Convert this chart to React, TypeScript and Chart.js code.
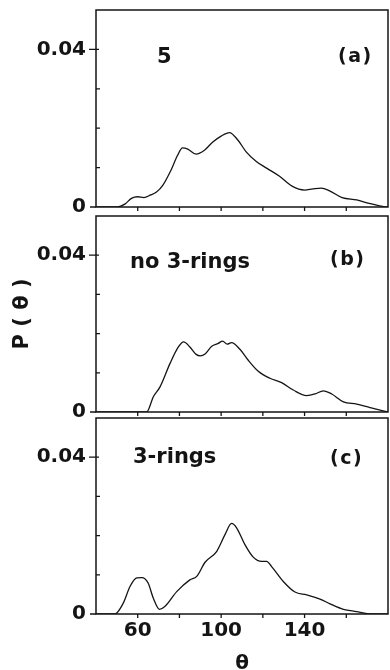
import React, { useEffect, useRef } from 'react';
import { Chart, registerables } from 'chart.js';

Chart.register(...registerables);

// ---- axis values ----
const X_MIN = 40;
const X_MAX = 180;
const Y_MIN = 0;
const Y_MAX = 0.05;
const xTickLabels = [60, 100, 140];
const xTickMarks = [60, 80, 100, 120, 140, 160];
const yTickMarks = [0, 0.01, 0.02, 0.03, 0.04];
const yTickLabels = ['0', '0.04'];

// ---- panel (a): 5 ----
const thetaA = [40, 50, 54, 57, 60, 63, 66, 69, 72, 76, 79, 81.5, 84, 88, 92, 96, 100, 104, 108, 112, 117, 122, 128, 134, 140, 144, 148, 152, 158, 165, 171, 178, 180];
const pA = [0, 0, 0.0008, 0.0022, 0.0026, 0.0024, 0.003, 0.0038, 0.0055, 0.0094, 0.013, 0.015, 0.0147, 0.0134, 0.0144, 0.0165, 0.018, 0.0189, 0.017, 0.014, 0.0115, 0.0098, 0.0078, 0.0053, 0.0043, 0.0046, 0.0048, 0.0041, 0.0024, 0.0018, 0.0009, 0.0001, 0];

// ---- panel (b): no 3-rings ----
const thetaB = [40, 64.3, 67.5, 70.7, 75.5, 79.5, 82, 85, 88, 90, 92.3, 95.5, 98.6, 100.7, 102.9, 105, 109, 113, 117.8, 123.4, 129, 134.6, 141, 145, 149, 153, 158.6, 165, 171.4, 180];
const pB = [0, 0, 0.0039, 0.0064, 0.0124, 0.0166, 0.0179, 0.0166, 0.0147, 0.0143, 0.0148, 0.0168, 0.0175, 0.0181, 0.0173, 0.0177, 0.016, 0.0132, 0.0104, 0.0086, 0.0075, 0.0056, 0.0042, 0.0046, 0.0054, 0.0046, 0.0026, 0.002, 0.0011, 0];

// ---- panel (c): 3-rings ----
const thetaC = [40, 49, 53, 56.3, 59.5, 62, 65, 67.5, 70.4, 73, 78.7, 85, 88.3, 92.3, 97.9, 101.9, 105, 107.4, 111.4, 115.4, 119.4, 121.8, 124.2, 129.8, 135.4, 141, 147.4, 152.2, 158.6, 165, 170, 180];
const pC = [0, 0, 0.0027, 0.007, 0.0092, 0.0093, 0.0079, 0.004, 0.0012, 0.0019, 0.0057, 0.0087, 0.0096, 0.0132, 0.016, 0.0203, 0.0231, 0.022, 0.0177, 0.0145, 0.0134, 0.0134, 0.0121, 0.0083, 0.0056, 0.0049, 0.0038, 0.0026, 0.0012, 0.0006, 0.0001, 0];

const FONT = '"DejaVu Sans", "Liberation Sans", sans-serif';
const INK = '#141414';

const decoPlugin = {
  id: 'panelDeco',
  afterDraw(chart: any, _args: any, opts: any) {
    const { ctx, chartArea: a, scales } = chart;
    const xs = scales.x;
    const ys = scales.y;
    ctx.save();
    ctx.strokeStyle = INK;
    ctx.lineWidth = 1.5;
    ctx.strokeRect(a.left, a.top, a.right - a.left, a.bottom - a.top);
    ctx.lineWidth = 1.3;
    ctx.beginPath();
    for (const v of yTickMarks) {
      const y = ys.getPixelForValue(v);
      const k = Math.round(v * 100);
      if (k === 0) {
        ctx.moveTo(a.left - 6, y);
        ctx.lineTo(a.left, y);
      } else if (k === 4) {
        ctx.moveTo(a.left - 7, y);
        ctx.lineTo(a.left + 3, y);
      } else {
        ctx.moveTo(a.left, y);
        ctx.lineTo(a.left + 4, y);
      }
    }
    for (const t of xTickMarks) {
      const x = xs.getPixelForValue(t);
      ctx.moveTo(x, a.bottom);
      ctx.lineTo(x, a.bottom + 4);
    }
    ctx.stroke();

    ctx.fillStyle = INK;
    ctx.textAlign = 'left';
    ctx.textBaseline = 'alphabetic';
    ctx.font = `bold 21px ${FONT}`;
    ctx.fillText(opts.label, opts.labelX, opts.labelY);
    ctx.font = `bold 19px ${FONT}`;
    (ctx as any).letterSpacing = '1.5px';
    ctx.fillText(opts.tag, opts.tagX, opts.tagY);
    (ctx as any).letterSpacing = '0px';
    ctx.restore();
  },
};

type PanelProps = {
  theta: number[];
  p: number[];
  top: number;
  height: number;
  padTop: number;
  padBottom: number;
  showX: boolean;
  showYTitle: boolean;
  label: string;
  labelX: number;
  labelY: number;
  tag: string;
  tagX: number;
  tagY: number;
};

function Panel(props: PanelProps) {
  const ref = useRef<HTMLCanvasElement>(null);
  useEffect(() => {
    const canvas = ref.current;
    if (!canvas) return;
    const tickFont = { family: FONT, size: 20, weight: 'bold' as const };
    const chart = new Chart(canvas, {
      type: 'line',
      data: {
        datasets: [
          {
            data: props.theta.map((t, i) => ({ x: t, y: props.p[i] })),
            borderColor: INK,
            borderWidth: 1.3,
            pointRadius: 0,
            fill: false,
            tension: 0.4,
            cubicInterpolationMode: 'monotone',
          },
        ],
      },
      options: {
        responsive: false,
        animation: false,
        devicePixelRatio: 1,
        layout: { padding: { top: props.padTop, bottom: props.padBottom, left: 0, right: 2 } },
        plugins: {
          legend: { display: false },
          tooltip: { enabled: false },
          panelDeco: {
            label: props.label,
            labelX: props.labelX,
            labelY: props.labelY,
            tag: props.tag,
            tagX: props.tagX,
            tagY: props.tagY,
          },
        } as any,
        scales: {
          x: {
            type: 'linear',
            min: X_MIN,
            max: X_MAX,
            display: props.showX,
            afterFit: (s: any) => {
              s.height = props.showX ? 56 : 0;
              s.paddingLeft = 0;
              s.paddingRight = 0;
            },
            afterBuildTicks: (s: any) => {
              s.ticks = xTickLabels.map((v) => ({ value: v }));
            },
            grid: { display: false, drawTicks: false },
            border: { display: false },
            ticks: { autoSkip: false, maxRotation: 0, padding: 5, color: INK, font: tickFont },
            title: {
              display: true,
              text: 'θ',
              color: INK,
              font: { family: FONT, size: 20, weight: 'bold', lineHeight: 0.6 },
              padding: 0,
            },
          },
          y: {
            min: Y_MIN,
            max: Y_MAX,
            afterFit: (s: any) => {
              s.width = 96;
              s.paddingTop = 0;
              s.paddingBottom = 0;
            },
            grid: { display: false, drawTicks: false },
            border: { display: false },
            ticks: {
              stepSize: 0.01,
              autoSkip: false,
              padding: 10,
              color: INK,
              font: tickFont,
              callback: (v: any) => {
                const k = Math.round(Number(v) * 100);
                return k === 0 ? yTickLabels[0] : k === 4 ? yTickLabels[1] : '';
              },
            },
            title: {
              display: props.showYTitle,
              text: 'P ( θ )',
              color: INK,
              font: { family: FONT, size: 21, weight: 'bold' },
              padding: { top: 10, bottom: 0 },
            },
          },
        },
      },
      plugins: [decoPlugin as any],
    });
    return () => chart.destroy();
  }, []);
  return (
    <canvas
      ref={ref}
      width={390}
      height={props.height}
      style={{ position: 'absolute', left: 0, top: props.top, width: 390, height: props.height }}
    />
  );
}

export default function App() {
  return (
    <div style={{ position: 'absolute', left: 0, top: 0, width: 390, height: 670, background: '#fff', overflow: 'hidden' }}>
      <Panel theta={thetaA} p={pA} top={0} height={216} padTop={10} padBottom={9} showX={false} showYTitle={false}
        label="5" labelX={157} labelY={63} tag="(a)" tagX={338} tagY={62} />
      <Panel theta={thetaB} p={pB} top={200} height={220} padTop={16} padBottom={8} showX={false} showYTitle={true}
        label="no 3-rings" labelX={130} labelY={68} tag="(b)" tagX={330} tagY={65} />
      <Panel theta={thetaC} p={pC} top={404} height={266} padTop={14} padBottom={0} showX={true} showYTitle={false}
        label="3-rings" labelX={133} labelY={59} tag="(c)" tagX={330} tagY={60} />
    </div>
  );
}
